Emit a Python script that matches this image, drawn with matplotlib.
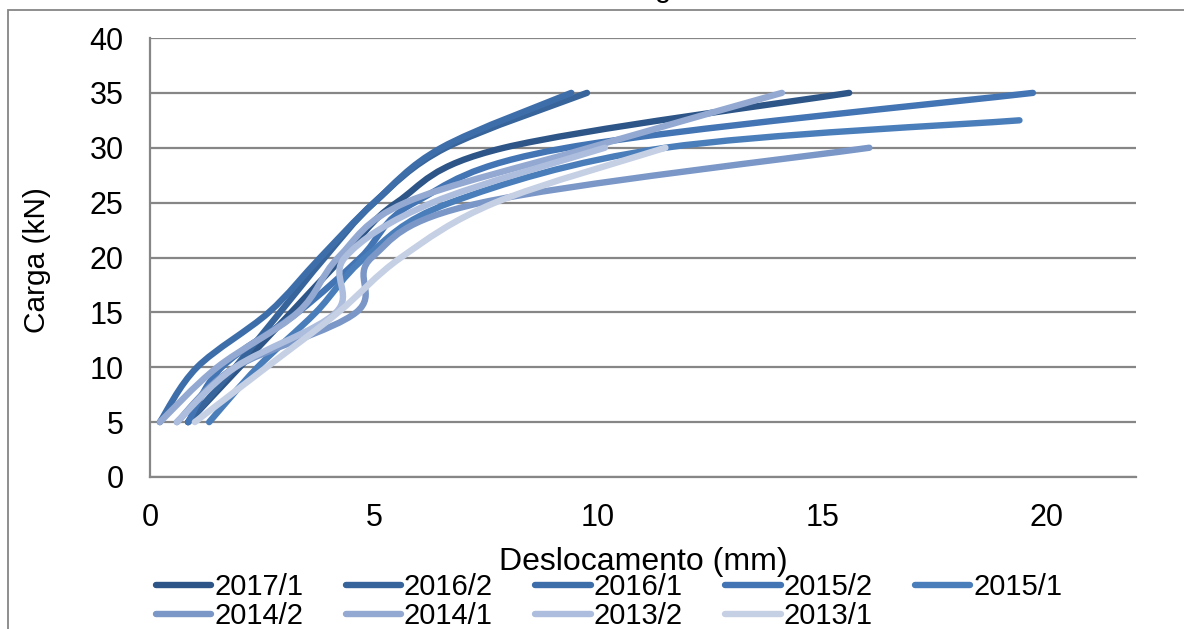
import matplotlib
matplotlib.use("Agg")
import matplotlib.pyplot as plt
from matplotlib.path import Path
from matplotlib.patches import PathPatch, Rectangle
from matplotlib.lines import Line2D
import numpy as np

plt.rcParams['font.family'] = ['Liberation Sans', 'DejaVu Sans']

# ---- data (load in kN vs displacement in mm) ----
series_names = ["2017/1", "2016/2", "2016/1", "2015/2", "2015/1",
                "2014/2", "2014/1", "2013/2", "2013/1"]

carga_35 = [5, 10, 15, 20, 25, 30, 35]
carga_32 = [5, 10, 15, 20, 25, 30, 32.5]
carga_30 = [5, 10, 15, 20, 25, 30]

desl_2017_1 = [0.85, 2.0, 3.15, 4.3, 5.5, 7.9, 15.6]
desl_2016_2 = [0.85, 1.9, 2.9, 3.9, 5.0, 6.6, 9.75]
desl_2016_1 = [0.22, 1.05, 2.65, 3.8, 5.0, 6.5, 9.4]
desl_2015_2 = [0.85, 1.6, 3.3, 4.7, 5.9, 9.3, 19.7]
desl_2015_1 = [1.32, 2.4, 3.7, 4.8, 6.7, 11.5, 19.4]
desl_2014_2 = [0.6, 1.9, 4.6, 4.95, 7.4, 16.05]
desl_2014_1 = [0.22, 1.5, 3.3, 4.2, 5.7, 9.8, 14.1]
desl_2013_2 = [0.6, 1.9, 4.15, 4.35, 6.3, 10.15]
desl_2013_1 = [1.0, 2.6, 4.2, 5.6, 7.7, 11.5]

x_ticks = [0, 5, 10, 15, 20]
y_ticks = [0, 5, 10, 15, 20, 25, 30, 35, 40]

series_x = [desl_2017_1, desl_2016_2, desl_2016_1, desl_2015_2, desl_2015_1,
            desl_2014_2, desl_2014_1, desl_2013_2, desl_2013_1]
series_y = [carga_35, carga_35, carga_35, carga_35, carga_32,
            carga_30, carga_35, carga_30, carga_30]

colors = ['#2D5587', '#37649A', '#3E6EAA', '#4374B3', '#4A7EBB',
          '#7A97C7', '#93A9D2', '#ADBDDD', '#C6D0E5']

W, H = 1184, 629
fig = plt.figure(figsize=(W / 100, H / 100), dpi=100)
ax = fig.add_axes([150 / W, 1 - 477 / H, (1136 - 150) / W, (477 - 38) / H])

grid_c = '#868686'


def smooth_path(xs, ys):
    pts = np.column_stack([xs, ys]).astype(float)
    n = len(pts)
    verts = [pts[0]]
    codes = [Path.MOVETO]
    for i in range(n - 1):
        p0 = pts[i - 1] if i > 0 else pts[i]
        p1 = pts[i]
        p2 = pts[i + 1]
        p3 = pts[i + 2] if i + 2 < n else pts[i + 1]
        c1 = p1 + (p2 - p0) / 6.0
        c2 = p2 - (p3 - p1) / 6.0
        verts += [c1, c2, p2]
        codes += [Path.CURVE4] * 3
    return Path(verts, codes)


lw = 4.6
for xs, ys, c in zip(series_x, series_y, colors):
    patch = PathPatch(smooth_path(xs, ys), facecolor='none', edgecolor=c,
                      lw=lw, capstyle='round', joinstyle='round', zorder=3)
    ax.add_patch(patch)

ax.set_xlim(0, 22)
ax.set_ylim(0, 40)
ax.set_xticks(x_ticks)
ax.set_yticks(y_ticks)
ax.yaxis.grid(True, color=grid_c, lw=1.6, zorder=0)
ax.set_axisbelow(True)
for s in ['top', 'right']:
    ax.spines[s].set_visible(False)
for s in ['left', 'bottom']:
    ax.spines[s].set_color(grid_c)
    ax.spines[s].set_linewidth(1.6)
ax.tick_params(axis='both', length=0, labelsize=22)
ax.tick_params(axis='y', pad=19)
ax.tick_params(axis='x', pad=19)

# labels
fig.text(643 / W, 1 - 562 / H, 'Deslocamento (mm)', ha='center', va='center', fontsize=23)
fig.text(37 / W, 1 - 260 / H, 'Carga (kN)', ha='center', va='center', rotation=90, fontsize=21.5)
# title (cut off at the top of the image)
fig.text(608 / W, 1 + 3 / H, 'Carga x Deslocamento', ha='left', va='baseline', fontsize=21)

# legend (row-major order)
order = [0, 5, 1, 6, 2, 7, 3, 8, 4]
handles = [Line2D([], [], color=colors[i], lw=lw, solid_capstyle='round') for i in order]
labels = [series_names[i] for i in order]
fig.legend(handles, labels, ncol=5, loc='upper left',
           bbox_to_anchor=(156 / W, 1 - 573 / H), frameon=False, fontsize=21,
           handlelength=1.9, handletextpad=0.1, columnspacing=1.45,
           labelspacing=0.05, borderaxespad=0, borderpad=0)

# outer chart border (cropped at right/bottom)
fig.patches.append(Rectangle((8 / W, -0.2), 1.5, 1 - 10 / H + 0.2, transform=fig.transFigure,
                             fill=False, edgecolor=grid_c, lw=1.3))

fig.savefig('out.png', dpi=100)
